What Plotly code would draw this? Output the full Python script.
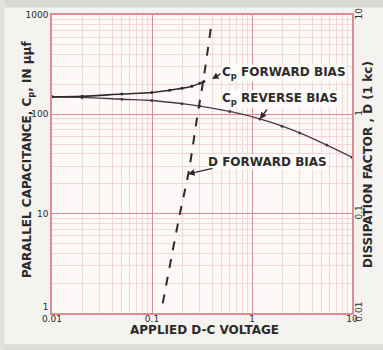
import plotly.graph_objects as go

# Data
cp_fwd_v = [0.01, 0.02, 0.05, 0.1, 0.15, 0.2, 0.25, 0.3, 0.33]
cp_fwd = [150, 152, 160, 166, 175, 183, 192, 205, 214]

cp_rev_v = [0.01, 0.02, 0.05, 0.1, 0.2, 0.3, 0.6, 1.2, 2.0, 3.0, 5.6, 10]
cp_rev = [150, 148, 142, 138, 128, 121, 107, 90, 76, 65, 49, 37]

d_fwd_v = [0.128, 0.19, 0.231, 0.29, 0.326, 0.395]
d_fwd = [0.0125, 0.1, 0.253, 1.1, 2.2, 8.5]

x_ticks = [0.01, 0.1, 1, 10]
x_ticklabels = ["0.01", "0.1", "1", "10"]
y_ticks = [1, 10, 100, 1000]
y_ticklabels = ["1<br>&nbsp;", "10", "100", "1000"]
y2_ticks = [0.01, 0.1, 1, 10]
y2_ticklabels = ["0.01", "0.1", "1", "10"]

FONT = "DejaVu Sans"
INK = "#2e2a2c"
MAJOR = "#dc8c95"
MINOR = "#f4d6d8"


def minor_vals(lo, hi):
    vals = []
    for k in range(lo, hi):
        for m in range(2, 10):
            vals.append(m * 10 ** k)
    return vals


fig = go.Figure()
fig.add_trace(go.Scatter(x=cp_rev_v, y=cp_rev, mode="lines+markers", line=dict(color="#4a3a46", width=1.4, shape="spline"),
                         marker=dict(size=3, color="#4a3a46"), showlegend=False))
fig.add_trace(go.Scatter(x=cp_fwd_v, y=cp_fwd, mode="lines+markers", line=dict(color=INK, width=1.6, shape="spline"),
                         marker=dict(size=3, color=INK), showlegend=False))
fig.add_trace(go.Scatter(x=d_fwd_v, y=d_fwd, mode="lines", yaxis="y2",
                         line=dict(color=INK, width=2, dash="dash", shape="spline"), showlegend=False))

axis_common = dict(type="log", showgrid=True, gridcolor=MAJOR, gridwidth=1.3, automargin=False,
                   showline=True, linecolor=MAJOR, linewidth=1.6, ticks="", zeroline=False,
                   tickfont=dict(family=FONT, size=9, color=INK))

fig.update_layout(
    width=383, height=350,
    margin=dict(l=52, r=31, t=15, b=37),
    paper_bgcolor="#f4f3f0",
    plot_bgcolor="#fdf9f8",
    xaxis=dict(range=[-2, 1], tickvals=x_ticks, ticktext=x_ticklabels, mirror=True, ticklabelstandoff=-4,
               minor=dict(tickmode="array", tickvals=minor_vals(-2, 1), showgrid=True, gridcolor=MINOR, gridwidth=1, ticks=""),
               **axis_common),
    yaxis=dict(range=[0, 3], tickvals=y_ticks, ticktext=y_ticklabels, mirror=True,
               minor=dict(tickmode="array", tickvals=minor_vals(0, 3), showgrid=True, gridcolor=MINOR, gridwidth=1, ticks=""),
               **axis_common),
    yaxis2=dict(range=[-2, 1], overlaying="y", side="right", type="log", showgrid=False, showline=False,
                tickvals=y2_ticks, ticktext=y2_ticklabels, ticks="", automargin=False, tickangle=-90,
                tickfont=dict(family=FONT, size=9, color=INK)),
)

def px(x, y):
    return (x - 52) / 300, (313 - y) / 298

TFONT = dict(family=FONT, size=12, color=INK)

# axis titles
tx, ty = px(376, 165)
fig.add_annotation(x=tx, y=ty, xref="paper", yref="paper", text="<b>DISSIPATION FACTOR , D (1 kc)</b>",
                   textangle=-90, showarrow=False, font=TFONT, borderpad=0)
tx, ty = px(19, 160)
fig.add_annotation(x=tx, y=ty, xref="paper", yref="paper", text="<b>PARALLEL CAPACITANCE, C<sub>p</sub>, IN μμf</b>",
                   textangle=-90, showarrow=False, font=TFONT, borderpad=0)
tx, ty = px(204, 338)
fig.add_annotation(x=tx, y=ty, xref="paper", yref="paper", text="<b>APPLIED D-C VOLTAGE</b>",
                   showarrow=False, font=TFONT, borderpad=0)

labels = [
    ("<b>C<sub>p</sub> FORWARD BIAS</b>", 221, 73),
    ("<b>C<sub>p</sub> REVERSE BIAS</b>", 221, 99),
    ("<b>D FORWARD BIAS</b>", 207, 162),
]
for text, lx, ly in labels:
    ax_, ay_ = px(lx, ly)
    fig.add_annotation(x=ax_, y=ay_, xref="paper", yref="paper", text=text, showarrow=False,
                       xanchor="left", yanchor="middle", bgcolor="#fefdfc", borderpad=0,
                       font=dict(family=FONT, size=12, color=INK))

arrows = [(212, 79, 10, -6), (260, 119, 8, -11), (188, 174, 26, -6)]
for hx, hy, axo, ayo in arrows:
    x_, y_ = px(hx, hy)
    fig.add_annotation(x=x_, y=y_, xref="paper", yref="paper", text="", showarrow=True,
                       ax=axo, ay=ayo, arrowhead=2, arrowsize=1, arrowwidth=1.3, arrowcolor=INK)

# scanned page edges
fig.add_shape(type="rect", xref="paper", yref="paper", x0=-0.2, x1=1.2, y0=1.025, y1=1.06,
              fillcolor="#d9d9d6", line=dict(width=0), layer="below")
fig.add_shape(type="rect", xref="paper", yref="paper", x0=-0.2, x1=1.2, y0=-0.105, y1=-0.125,
              fillcolor="#dcdcd9", line=dict(width=0), layer="below")
fig.add_shape(type="rect", xref="paper", yref="paper", x0=-0.2, x1=-0.158, y0=-0.2, y1=1.1,
              fillcolor="#e2e2df", line=dict(width=0), layer="below")

fig.write_html("out.html", config={"displayModeBar": False},
               post_script="document.body.style.margin='0';document.body.style.overflow='hidden';")
